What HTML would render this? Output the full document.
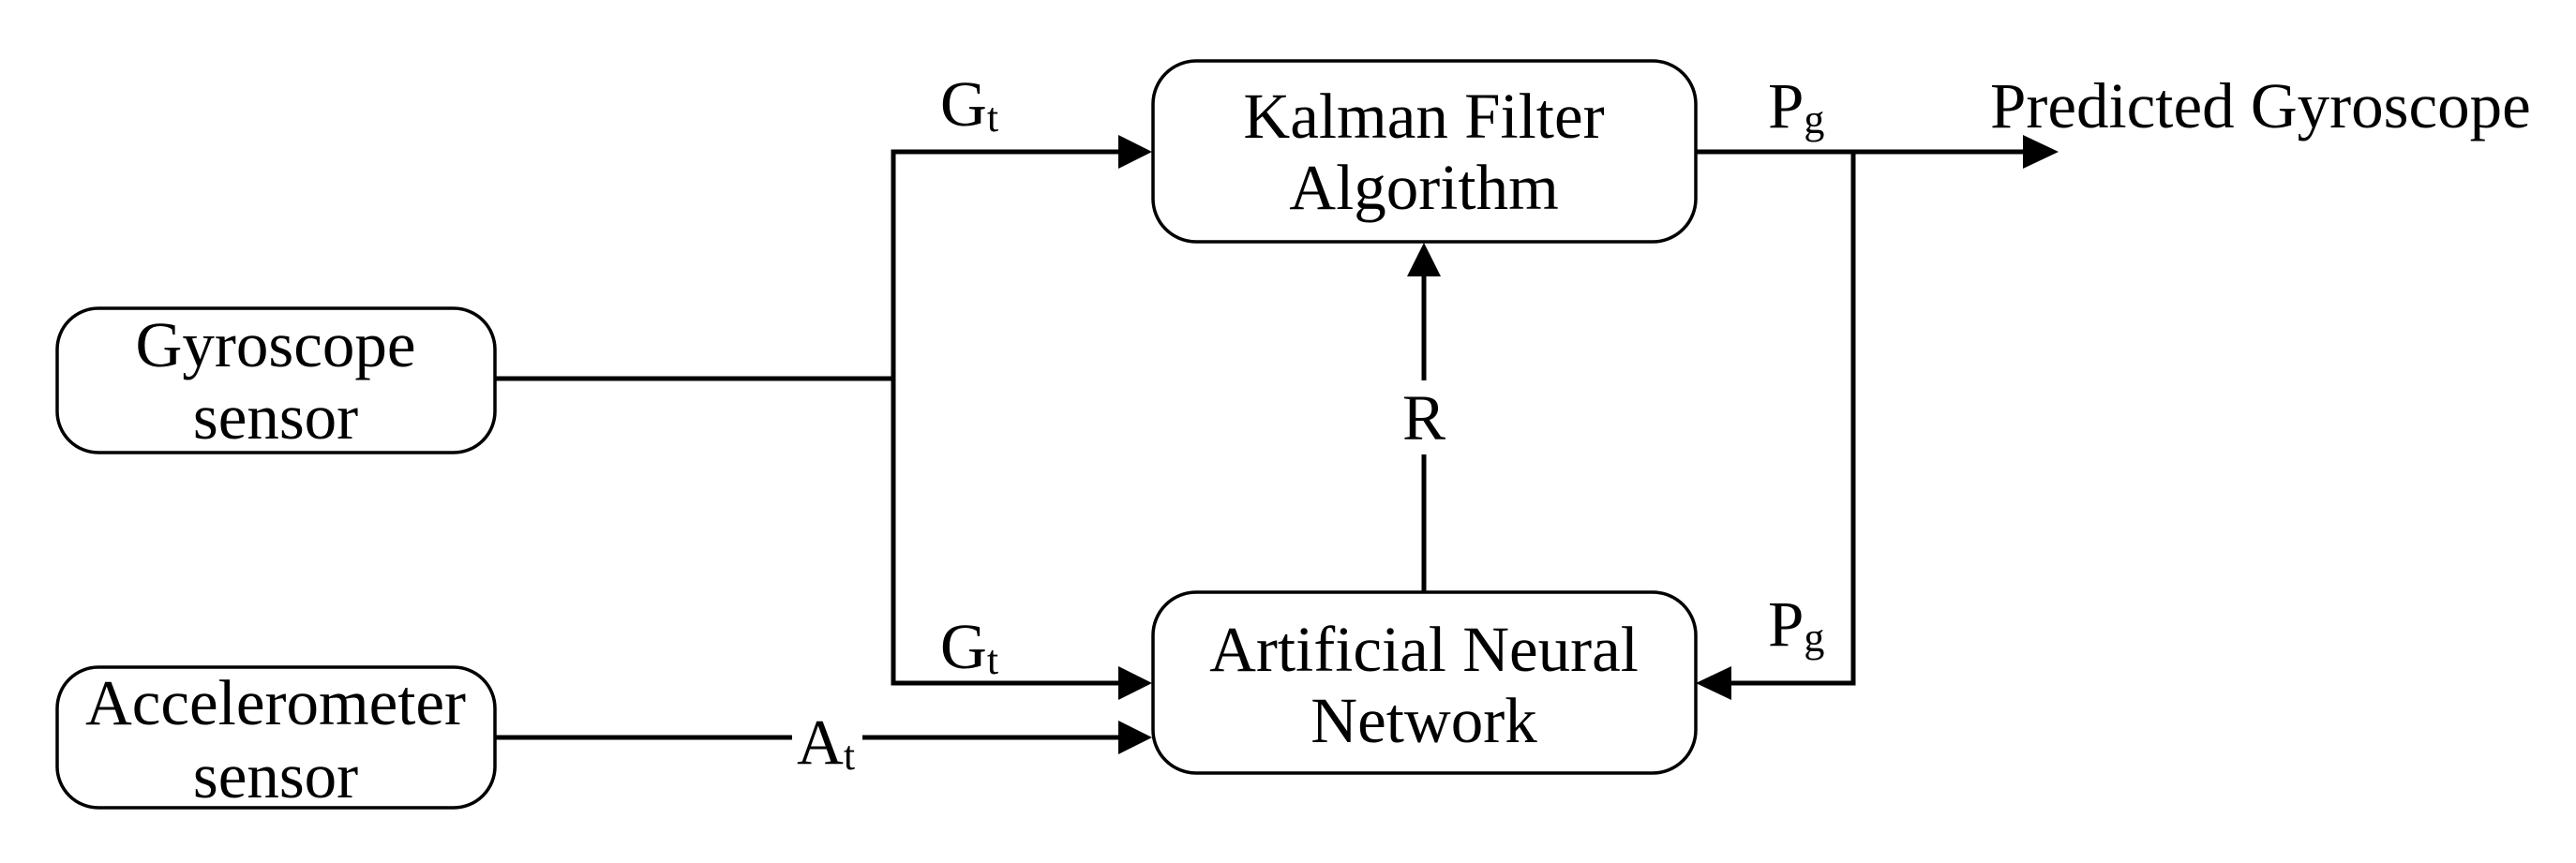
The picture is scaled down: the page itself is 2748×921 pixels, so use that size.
<!DOCTYPE html>
<html><head><meta charset="utf-8"><style>html,body{margin:0;padding:0;background:#fff}</style></head><body>
<svg width="2748" height="916" xmlns="http://www.w3.org/2000/svg" font-family="Liberation Serif, serif" font-size="69">
<rect width="2748" height="916" fill="#fff"/>
<g fill="none" stroke="#000" stroke-width="3.5">
<rect x="61" y="329" width="467" height="154" rx="44"/>
<rect x="61" y="712" width="467" height="150" rx="44"/>
<rect x="1230" y="65" width="579" height="193" rx="46"/>
<rect x="1230" y="632" width="579" height="193" rx="46"/>
</g>
<g fill="none" stroke="#000" stroke-width="5">
<polyline points="528,404 953,404"/>
<polyline points="1195,162 953,162 953,729 1195,729"/>
<line x1="528" y1="787" x2="845" y2="787"/>
<line x1="920" y1="787" x2="1195" y2="787"/>
<line x1="1809" y1="162" x2="2160" y2="162"/>
<polyline points="1977,162 1977,729 1845,729"/>
<line x1="1519" y1="632" x2="1519" y2="485"/>
<line x1="1519" y1="406" x2="1519" y2="292"/>
</g>
<g fill="#000">
<polygon points="1193,144 1229,162 1193,180"/>
<polygon points="1193,711 1229,729 1193,747"/>
<polygon points="1193,769 1229,787 1193,805"/>
<polygon points="2158,144 2196,162 2158,180"/>
<polygon points="1847,711 1809,729 1847,747"/>
<polygon points="1501,295 1519,259 1537,295"/>
</g>
<g text-anchor="middle">
<text x="294" y="391">Gyroscope</text>
<text x="294" y="468">sensor</text>
<text x="294" y="773">Accelerometer</text>
<text x="294" y="851">sensor</text>
<text x="1519" y="147">Kalman Filter</text>
<text x="1519" y="223">Algorithm</text>
<text x="1519" y="716">Artificial Neural</text>
<text x="1519" y="792">Network</text>
<text x="1519" y="469">R</text>
</g>
<text x="1003" y="134">G<tspan font-size="44" dy="6">t</tspan></text>
<text x="1003" y="713">G<tspan font-size="44" dy="6">t</tspan></text>
<text x="850" y="815">A<tspan font-size="44" dy="6">t</tspan></text>
<text x="1886" y="136">P<tspan font-size="44" dy="6">g</tspan></text>
<text x="1886" y="689">P<tspan font-size="44" dy="6">g</tspan></text>
<text x="2123" y="136">Predicted Gyroscope</text>
</svg>
</body></html>
